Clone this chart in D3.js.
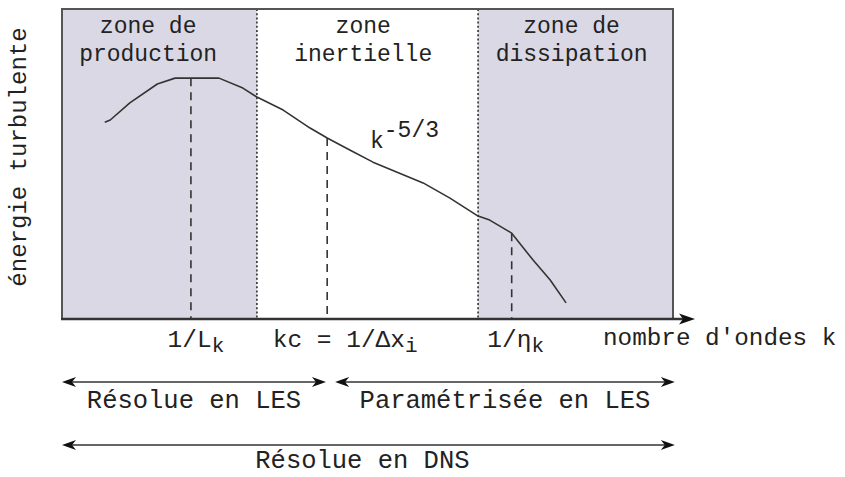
<!DOCTYPE html>
<html><head><meta charset="utf-8">
<script src="https://cdn.jsdelivr.net/npm/d3@7"></script>
<style>html,body{margin:0;padding:0;background:#fff;}svg{display:block;}</style>
</head><body>
<svg id="c" width="845" height="477"></svg>
<script>
// ---- data (abstract units: wavenumber k 0..100, energy E 0..100) ----
const curveK = [7.0, 7.9, 11.1, 15.6, 18.5, 25.7, 29.6, 31.9, 36.2, 40.6, 43.4, 47.1, 50.9, 59.1, 63.5, 68.1, 70.0, 73.6, 77.1, 79.9, 82.5];
const curveE = [63.5, 64.2, 69.7, 75.8, 77.7, 77.7, 74.5, 71.6, 67.4, 61.6, 58.4, 54.5, 50.6, 43.9, 39.0, 33.2, 31.9, 27.7, 19.0, 12.6, 5.2];
const zoneBounds = [0, 31.9, 68.1, 100];
const zoneShaded = [true, false, true];
const zoneLine1 = ["zone de", "zone", "zone de"];
const zoneLine2 = ["production", "inertielle", "dissipation"];
const zoneLabelK = [14.1, 49.3, 83.4];
const markerK = [21.1, 43.4, 73.6];
const markerMain = ["1/L", "kc = 1/\u0394x", "1/\u03b7"];
const markerSub = ["k", "i", "k"];
const rangeFrom = [0, 44.7, 0];
const rangeTo = [43.2, 100.3, 100.3];
const rangeLabel = ["R\u00e9solue en LES", "Param\u00e9tris\u00e9e en LES", "R\u00e9solue en DNS"];
const rangeRow = [0, 0, 1];
const slopeLabel = "k", slopeExp = "-5/3";
const xTitle = "nombre d'ondes k", yTitle = "\u00e9nergie turbulente";

// ---- layout ----
const L = 62, R = 673, T = 9, B = 319;
const x = d3.scaleLinear().domain([0, 100]).range([L, R]);
const y = d3.scaleLinear().domain([0, 100]).range([B, T]);
const svg = d3.select("#c");
const font = "'Liberation Mono','DejaVu Sans Mono',monospace";
const ink = "#222";
const shade = "#d9d8e4";

function interpE(k) {
  for (let i = 0; i < curveK.length - 1; i++) {
    if (k >= curveK[i] && k <= curveK[i + 1]) {
      const t = (k - curveK[i]) / (curveK[i + 1] - curveK[i]);
      return curveE[i] + t * (curveE[i + 1] - curveE[i]);
    }
  }
  return 0;
}

// zones
svg.selectAll("rect.zone").data(d3.range(3)).join("rect")
  .attr("x", i => x(zoneBounds[i])).attr("y", T)
  .attr("width", i => x(zoneBounds[i + 1]) - x(zoneBounds[i]))
  .attr("height", B - T)
  .attr("fill", i => zoneShaded[i] ? shade : "#fff");

// dotted zone separators
svg.selectAll("line.sep").data([zoneBounds[1], zoneBounds[2]]).join("line")
  .attr("x1", d => x(d)).attr("x2", d => x(d)).attr("y1", T).attr("y2", B)
  .attr("stroke", "#3a3a3a").attr("stroke-width", 1.7).attr("stroke-dasharray", "2,2.2");

// frame (top, left, right)
svg.append("path")
  .attr("d", `M${L},${B}V${T}H${R}V${B}`)
  .attr("fill", "none").attr("stroke", "#555").attr("stroke-width", 2);

// zone labels
const zl = svg.selectAll("text.zl").data(d3.range(3)).join("text")
  .attr("font-family", font).attr("font-size", 23).attr("fill", ink)
  .attr("text-anchor", "middle");
zl.append("tspan").attr("x", i => x(zoneLabelK[i])).attr("y", 33).text(i => zoneLine1[i]);
zl.append("tspan").attr("x", i => x(zoneLabelK[i])).attr("y", 61).text(i => zoneLine2[i]);

// dashed markers
svg.selectAll("line.mk").data(markerK).join("line")
  .attr("x1", d => x(d)).attr("x2", d => x(d))
  .attr("y1", d => y(interpE(d))).attr("y2", B)
  .attr("stroke", "#333").attr("stroke-width", 1.6).attr("stroke-dasharray", "8,6");

// curve
svg.append("path")
  .datum(d3.zip(curveK, curveE))
  .attr("d", d3.line().x(d => x(d[0])).y(d => y(d[1])).curve(d3.curveLinear))
  .attr("fill", "none").attr("stroke", "#333").attr("stroke-width", 1.6)
  .attr("stroke-linejoin", "round");

// x axis with arrow
const axisEnd = 695;
svg.append("line").attr("x1", L - 1).attr("x2", axisEnd - 8).attr("y1", B).attr("y2", B)
  .attr("stroke", "#333").attr("stroke-width", 2.4);
svg.append("path")
  .attr("d", `M${axisEnd},${B} L${axisEnd - 16},${B - 5.5} L${axisEnd - 12},${B} L${axisEnd - 16},${B + 5.5}Z`)
  .attr("fill", "#111");

// k^-5/3
const sl = svg.append("text").attr("font-family", font).attr("fill", ink)
  .attr("x", 370).attr("y", 148).attr("font-size", 23);
sl.append("tspan").text(slopeLabel);
sl.append("tspan").attr("dy", -11).attr("font-size", 23).text(slopeExp);

// marker labels
const mOff = [5, 18, 4];
const ml = svg.selectAll("text.ml").data(d3.range(3)).join("text")
  .attr("font-family", font).attr("fill", ink).attr("font-size", 24.5)
  .attr("text-anchor", "middle")
  .attr("x", i => x(markerK[i]) + mOff[i]).attr("y", 347);
ml.append("tspan").text(i => markerMain[i]);
ml.append("tspan").attr("dy", 5).attr("font-size", 21).text(i => markerSub[i]);

// axis title
svg.append("text").attr("font-family", font).attr("fill", ink).attr("font-size", 24.3)
  .attr("x", 603).attr("y", 345).text(xTitle);

// y title
svg.append("text").attr("font-family", font).attr("fill", ink).attr("font-size", 24)
  .attr("text-anchor", "middle")
  .attr("transform", "translate(26,157) rotate(-90)").text(yTitle);

// range arrows
const rowY = [382, 445];
const labY = [408, 468];
function head(px, py, dir) {
  const l = 14, w = 5, n = 10;
  return `M${px},${py} L${px - dir * l},${py - w} L${px - dir * n},${py} L${px - dir * l},${py + w}Z`;
}
d3.range(3).forEach(i => {
  const x0 = x(rangeFrom[i]), x1 = x(rangeTo[i]), yy = rowY[rangeRow[i]];
  svg.append("line").attr("x1", x0 + 8).attr("x2", x1 - 8).attr("y1", yy).attr("y2", yy)
    .attr("stroke", "#333").attr("stroke-width", 1.6);
  svg.append("path").attr("d", head(x0, yy, -1)).attr("fill", "#111");
  svg.append("path").attr("d", head(x1, yy, 1)).attr("fill", "#111");
  svg.append("text").attr("font-family", font).attr("fill", ink).attr("font-size", 25.5)
    .attr("text-anchor", "middle").attr("x", (x0 + x1) / 2 - (rangeRow[i] ? 6 : 0)).attr("y", labY[rangeRow[i]])
    .text(rangeLabel[i]);
});
</script>
</body></html>
